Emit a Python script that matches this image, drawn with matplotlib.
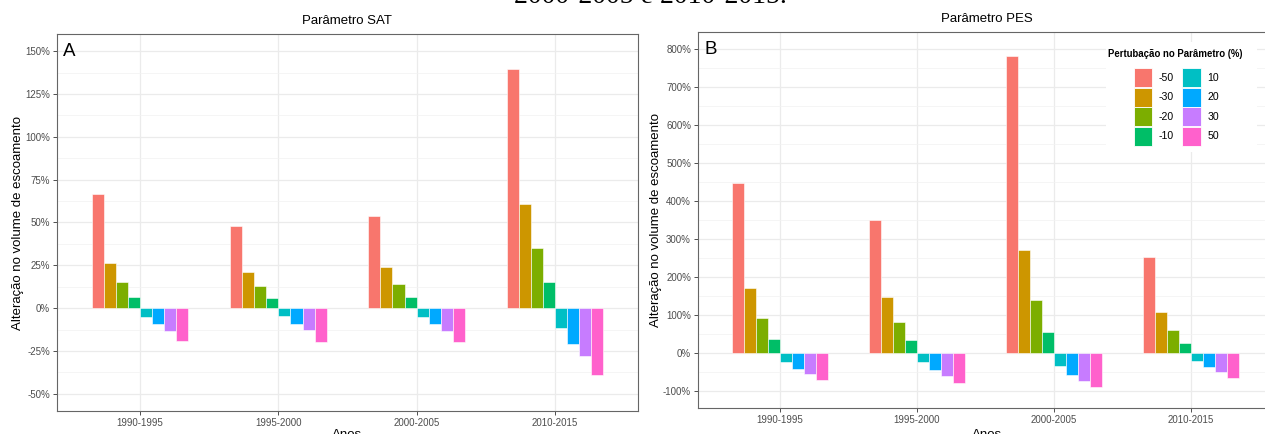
import matplotlib
matplotlib.use("Agg")
import matplotlib.pyplot as plt
from matplotlib.patches import Patch, Rectangle
from matplotlib.ticker import MultipleLocator, FuncFormatter
from matplotlib.transforms import blended_transform_factory
import numpy as np

plt.rcParams['font.family'] = ['Liberation Sans', 'DejaVu Sans']

categories = ["1990-1995", "1995-2000", "2000-2005", "2010-2015"]
perturbations = ["-50", "-30", "-20", "-10", "10", "20", "30", "50"]
colors = ["#F8766D", "#CD9600", "#7CAE00", "#00BE67", "#00BFC4", "#00A9FF", "#C77CFF", "#FF61CC"]

# Parâmetro SAT (% change), rows = categories, cols = perturbations
sat_1990_1995 = [66.5, 26.4, 15.1, 6.8, -5.2, -9.5, -13.4, -19.2]
sat_1995_2000 = [47.7, 21.3, 12.8, 6.0, -4.8, -9.1, -13.0, -19.6]
sat_2000_2005 = [53.9, 24.2, 14.3, 6.6, -5.2, -9.5, -13.6, -19.8]
sat_2010_2015 = [139.7, 60.9, 35.1, 15.1, -11.6, -20.7, -27.9, -38.8]

# Parâmetro PES (% change)
pes_1990_1995 = [447, 170, 92, 37, -25, -43, -56, -70]
pes_1995_2000 = [351, 146, 82, 35, -25, -45, -60, -78]
pes_2000_2005 = [782, 272, 140, 55, -35, -58, -73, -89]
pes_2010_2015 = [253, 107, 61, 26, -20, -37, -49, -66]

sat = np.array([sat_1990_1995, sat_1995_2000, sat_2000_2005, sat_2010_2015])
pes = np.array([pes_1990_1995, pes_1995_2000, pes_2000_2005, pes_2010_2015])

W, H = 1265, 434
fig = plt.figure(figsize=(W / 100, H / 100), dpi=100)

def box(l, r, t, b):
    return [l / W, 1 - b / H, (r - l) / W, (b - t) / H]

axA = fig.add_axes(box(57, 638, 34, 411))
axB = fig.add_axes(box(698, 1273, 32, 408))

grid_major = "#EBEBEB"
bar_w = 0.7 / len(perturbations)

def pct(v, _):
    return f"{v:.0f}%"

def draw(ax, data, ylim, major, minor, letter, letter_y, title, title_x, title_y):
    ax.set_axisbelow(True)
    x = np.arange(len(categories))
    for j, (p, c) in enumerate(zip(perturbations, colors)):
        ax.bar(x + (j - 3.5) * bar_w, data[:, j], width=bar_w, color=c,
               edgecolor="#FFFFFF", linewidth=0.4, label=p)
    ax.set_xlim(-0.6, len(categories) - 0.4)
    ax.set_ylim(*ylim)
    ax.set_xticks(x)
    ax.set_xticklabels(categories)
    ax.yaxis.set_major_locator(MultipleLocator(major))
    ax.yaxis.set_minor_locator(MultipleLocator(minor))
    ax.yaxis.set_major_formatter(FuncFormatter(pct))
    ax.grid(True, which="major", color=grid_major, linewidth=0.9)
    ax.grid(True, which="minor", axis="y", color="#F2F2F2", linewidth=0.5)
    ax.tick_params(which="major", length=3, width=0.6, color="#333333",
                   labelsize=7, labelcolor="#4D4D4D", pad=2)
    ax.tick_params(which="minor", length=0)
    for s in ax.spines.values():
        s.set_color("#666666")
        s.set_linewidth(0.8)
    ax.set_ylabel("Alteração no volume de escoamento", fontsize=9.5, color="#000000", labelpad=0.5)
    tr = blended_transform_factory(ax.transAxes, ax.transData)
    ax.text(0.011, letter_y, letter, transform=tr, fontsize=13.5,
            va="center", ha="left")
    fig.text(title_x / W, 1 - title_y / H, title,
             fontsize=9.5, ha="center", va="center")
    fig.text(title_x / W, 1 - 435 / H, "Anos",
             fontsize=9.5, ha="center", va="center")

draw(axA, sat, (-60, 160), 25, 12.5, "A", 150, "Parâmetro SAT", 347, 21)
draw(axB, pes, (-145, 845), 100, 50, "B", 800, "Parâmetro PES", 987, 19)

# legend background (covers grid lines like the reference)
fig.add_artist(Rectangle((1106 / W, 1 - 152 / H), (1257 - 1106) / W, (152 - 42) / H,
                         transform=fig.transFigure, facecolor="white",
                         edgecolor="none", zorder=1))
fig.text(1108 / W, 1 - 54 / H, "Pertubação no Parâmetro (%)", fontsize=6.9,
         fontweight="bold", ha="left", va="center", zorder=6)
handles = [Patch(facecolor=c, edgecolor="#FFFFFF", linewidth=0.6) for c in colors]
fig.legend(handles, perturbations, ncol=2, loc="upper left",
           bbox_to_anchor=(1134 / W, 1 - 68 / H), bbox_transform=fig.transFigure,
           fontsize=7.6, frameon=False,
           handlelength=1.75, handleheight=2.42, labelspacing=0.03,
           handletextpad=0.6, columnspacing=0.8, borderpad=0, borderaxespad=0)

fig.text(650 / W, 1 - 3 / H, "2000-2005 e 2010-2015.", fontsize=20,
         family=["Liberation Serif", "DejaVu Serif"], ha="center", va="baseline")

fig.savefig("out.png", dpi=100)
